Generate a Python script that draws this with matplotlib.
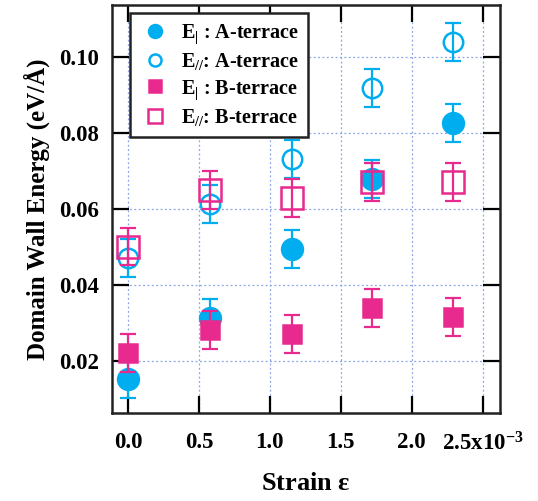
import numpy as np
import matplotlib.pyplot as plt
from matplotlib.ticker import FixedLocator, FixedFormatter

plt.rcParams['font.family'] = ['Liberation Serif', 'DejaVu Serif']
plt.rcParams['font.weight'] = 'bold'
plt.rcParams['axes.labelweight'] = 'bold'
plt.rcParams['mathtext.fontset'] = 'custom'
plt.rcParams['mathtext.rm'] = 'Liberation Serif:bold'
plt.rcParams['mathtext.bf'] = 'Liberation Serif:bold'
plt.rcParams['mathtext.it'] = 'Liberation Serif:bold:italic'

# strain (x 10^-3)
strain = [0.0, 0.577, 1.153, 1.72, 2.29]

# domain wall energies (eV/A)
e_perp_a = [0.0153, 0.0313, 0.0495, 0.0678, 0.0827]
e_par_a = [0.0471, 0.0612, 0.0731, 0.0919, 0.1040]
e_perp_b = [0.0221, 0.0280, 0.0271, 0.0340, 0.0316]
e_par_b = [0.0501, 0.0650, 0.0630, 0.0670, 0.0670]
err = [0.005, 0.005, 0.005, 0.005, 0.005]

x_ticks = [0.0, 0.5, 1.0, 1.5, 2.0, 2.5]
x_ticklabels = ['0.0', '0.5', '1.0', '1.5', '2.0', r'2.5x10$^{\mathregular{-3}}$']
y_ticks = [0.02, 0.04, 0.06, 0.08, 0.10]

cyan = '#00aeef'
pink = '#e8298e'

fig = plt.figure(figsize=(5.38, 5.01), dpi=100)
ax = fig.add_axes([0.208, 0.176, 0.721, 0.814])

series = [
    (e_perp_a, cyan, 'o', cyan, 15, r'E$_{\mathregular{|}}$ : A-terrace'),
    (e_par_a, cyan, 'o', 'none', 14, r'E$_{\mathit{//}}$: A-terrace'),
    (e_perp_b, pink, 's', pink, 13.5, r'E$_{\mathregular{|}}$ : B-terrace'),
    (e_par_b, pink, 's', 'none', 16, r'E$_{\mathit{//}}$: B-terrace'),
]

z = 3
for y, col, mk, fc, ms, lab in series:
    ax.errorbar(strain, y, yerr=err, fmt='none', ecolor=col, elinewidth=1.6,
                capsize=5.5, capthick=1.6, zorder=z)
    ax.plot(strain, y, linestyle='none', marker=mk, markersize=ms, color=col,
            markerfacecolor=fc, markeredgecolor=col, markeredgewidth=1.8,
            label=lab, zorder=z + 1)
    z += 2

ax.set_xlim(-0.113, 2.62)
ax.set_ylim(0.0063, 0.1137)
ax.xaxis.set_major_locator(FixedLocator(x_ticks))
ax.xaxis.set_major_formatter(FixedFormatter(x_ticklabels))
ax.set_yticks(y_ticks)
ax.set_yticklabels(['%.2f' % v for v in y_ticks])

ax.grid(True, linestyle=(0, (1.5, 2)), color='#8aa5e6', linewidth=0.9)
ax.set_axisbelow(True)
ax.tick_params(direction='in', length=12, width=1.6, top=True, right=True,
               labelsize=16.5)
ax.tick_params(axis='x', pad=14)
ax.tick_params(axis='y', pad=9)
for s in ax.spines.values():
    s.set_linewidth(1.8)
    s.set_color('#222222')

ax.set_xlabel(r'Strain $\mathregular{\varepsilon}$', fontsize=19, labelpad=12)
ax.set_ylabel('Domain Wall Energy (eV/Å)', fontsize=18, labelpad=7)

leg = ax.legend(loc='upper left', bbox_to_anchor=(0.046, 0.98), fontsize=14.5,
                markerscale=0.62, handletextpad=0.5, borderpad=0.45,
                labelspacing=0.28, fancybox=False, framealpha=1, handlelength=1.6,
                borderaxespad=0)
leg.get_frame().set_edgecolor('#222222')
leg.get_frame().set_linewidth(1.8)

fig.savefig('out.png', dpi=100)
